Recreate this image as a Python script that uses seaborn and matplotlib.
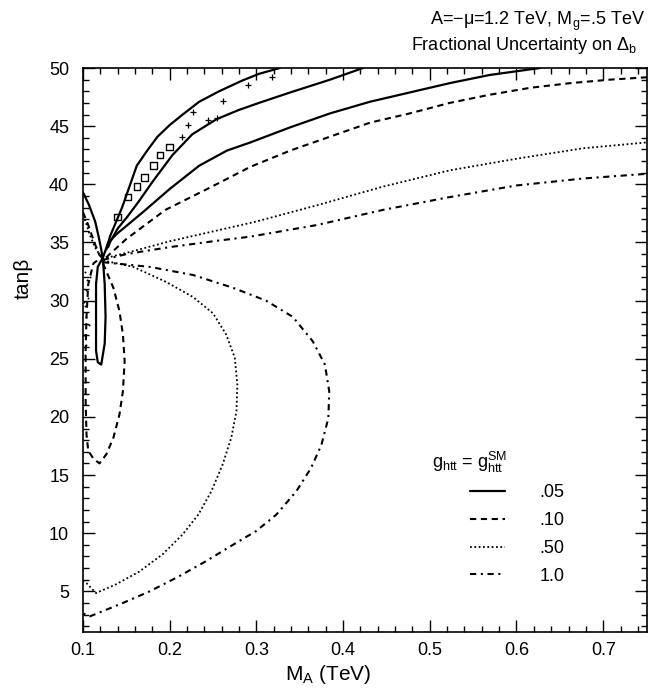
import numpy as np
import matplotlib
matplotlib.use("Agg")
import matplotlib.pyplot as plt
from matplotlib.ticker import MultipleLocator, FormatStrFormatter
from matplotlib.lines import Line2D
import seaborn as sns

# --- contour traces (M_A in TeV, tan beta) ---
# .05 (solid): upper-left piece, narrow loop, then the smooth upper branch
sol_loop_x = [0.100, 0.102, 0.107, 0.111, 0.114, 0.118, 0.121, 0.123, 0.125, 0.126, 0.125, 0.121,
              0.117, 0.115, 0.115, 0.115, 0.117, 0.123, 0.129, 0.140, 0.169, 0.200, 0.234, 0.266,
              0.293, 0.339, 0.385, 0.431, 0.477, 0.523, 0.569, 0.627]
sol_loop_y = [39.3, 39.0, 38.2, 37.4, 36.8, 35.5, 34.4, 33.5, 31.4, 28.6, 26.3, 24.5,
              24.7, 25.7, 28.6, 31.4, 32.9, 33.7, 35.0, 35.8, 37.6, 39.6, 41.6, 42.9,
              43.6, 44.9, 46.1, 47.1, 47.9, 48.7, 49.4, 50.0]
sol_a_x = [0.127, 0.131, 0.145, 0.154, 0.162, 0.175, 0.186, 0.200, 0.215, 0.234, 0.257, 0.283, 0.303, 0.327]
sol_a_y = [34.4, 35.5, 38.0, 39.9, 41.6, 43.0, 44.1, 45.1, 46.0, 47.1, 48.0, 48.9, 49.5, 50.0]
sol_b_x = [0.129, 0.131, 0.140, 0.151, 0.165, 0.180, 0.203, 0.226, 0.254, 0.280, 0.303, 0.339, 0.385, 0.423]
sol_b_y = [34.6, 35.0, 36.2, 37.2, 38.6, 40.2, 42.5, 44.3, 45.6, 46.4, 47.0, 47.9, 49.0, 50.0]

# .10 (dashed)
dash_up_x = [0.100, 0.106, 0.113, 0.119, 0.125, 0.150, 0.195, 0.246, 0.293, 0.339, 0.385, 0.431,
             0.477, 0.523, 0.569, 0.616, 0.662, 0.708, 0.750]
dash_up_y = [37.6, 36.5, 35.0, 33.9, 33.6, 35.3, 37.8, 39.7, 41.5, 42.9, 44.1, 45.3,
             46.1, 47.0, 47.7, 48.3, 48.7, 49.0, 49.2]
dash_lo_x = [0.123, 0.135, 0.142, 0.146, 0.148, 0.146, 0.142, 0.135, 0.127, 0.119, 0.112, 0.106,
             0.104, 0.103, 0.103, 0.104, 0.106, 0.112, 0.121]
dash_lo_y = [33.2, 31.1, 29.1, 27.1, 24.8, 22.2, 20.2, 18.2, 16.8, 16.0, 16.4, 17.1,
             18.5, 21.4, 25.7, 28.6, 31.4, 33.2, 33.7]

# .50 (dotted)
dot_up_x = [0.102, 0.108, 0.115, 0.123, 0.150, 0.200, 0.250, 0.300, 0.370, 0.446, 0.523, 0.600, 0.677, 0.750]
dot_up_y = [37.0, 35.6, 34.4, 33.6, 34.1, 35.1, 35.95, 36.8, 38.2, 39.8, 41.2, 42.2, 43.1, 43.6]
dot_lo_x = [0.123, 0.158, 0.196, 0.227, 0.250, 0.265, 0.275, 0.278, 0.277, 0.271, 0.261, 0.248,
            0.233, 0.215, 0.192, 0.165, 0.138, 0.115, 0.104, 0.100]
dot_lo_y = [33.45, 32.9, 31.6, 30.3, 28.9, 27.1, 25.1, 22.8, 20.5, 18.2, 15.9, 13.6,
            11.6, 9.9, 8.2, 6.7, 5.6, 4.85, 5.7, 5.9]

# 1.0 (dash-dot)
dd_up_x = [0.123, 0.150, 0.200, 0.250, 0.293, 0.370, 0.446, 0.523, 0.600, 0.677, 0.750]
dd_up_y = [33.5, 34.0, 34.6, 35.1, 35.5, 36.5, 37.8, 38.9, 39.9, 40.5, 40.9]
dd_lo_x = [0.123, 0.177, 0.227, 0.273, 0.311, 0.342, 0.365, 0.379, 0.384, 0.383, 0.375, 0.363,
           0.346, 0.323, 0.300, 0.273, 0.242, 0.211, 0.177, 0.146, 0.123, 0.108, 0.100]
dd_lo_y = [33.3, 32.9, 32.2, 31.1, 30.0, 28.6, 26.5, 24.5, 22.2, 19.9, 17.6, 15.6,
           13.6, 11.6, 10.2, 9.0, 7.6, 6.3, 5.0, 4.0, 3.3, 2.85, 3.1]

# numerical noise of the scan (boxes between the .05 branches, scattered dots near the axis)
box_x = [0.140, 0.152, 0.162, 0.171, 0.181, 0.189, 0.200]
box_y = [37.2, 38.9, 39.8, 40.6, 41.6, 42.5, 43.2]
cross_x = [0.214, 0.221, 0.227, 0.244, 0.255, 0.261, 0.290, 0.318]
cross_y = [44.1, 45.1, 46.2, 45.5, 45.7, 47.2, 48.5, 49.2]
blob_x = [0.102, 0.105, 0.103, 0.106, 0.102, 0.104, 0.107, 0.101, 0.104, 0.102, 0.108, 0.101]
blob_y = [32.5, 31.8, 30.9, 30.2, 29.5, 28.6, 27.9, 27.0, 26.2, 25.3, 32.0, 29.9]

levels = [".05", ".10", ".50", "1.0"]

sns.set_theme(style="ticks")
plt.rcParams.update({
    "font.family": ["Liberation Sans", "DejaVu Sans"],
    "mathtext.fontset": "custom",
    "mathtext.rm": "Liberation Sans",
    "mathtext.it": "Liberation Sans",
    "mathtext.bf": "Liberation Sans:bold",
    "axes.edgecolor": "black",
    "axes.linewidth": 1.2,
    "text.color": "black",
    "axes.labelcolor": "black",
    "xtick.color": "black",
    "ytick.color": "black",
})

STYLES = {
    ".05": dict(linestyle="-", linewidth=1.6),
    ".10": dict(linestyle=(0, (3, 2.2)), linewidth=1.5),
    ".50": dict(linestyle=(0, (1, 1.4)), linewidth=1.3),
    "1.0": dict(linestyle=(0, (3, 2.2, 1, 2.2)), linewidth=1.5),
}

fig = plt.figure(figsize=(6.6, 6.94), dpi=100)
ax = fig.add_axes([0.1258, 0.0893, 0.8538, 0.8127])


def trace(xs, ys, lev):
    sns.lineplot(x=xs, y=ys, sort=False, estimator=None, color="black", ax=ax, **STYLES[lev])


trace(sol_loop_x, sol_loop_y, ".05")
trace(sol_a_x, sol_a_y, ".05")
trace(sol_b_x, sol_b_y, ".05")
trace(dash_up_x, dash_up_y, ".10")
trace(dash_lo_x, dash_lo_y, ".10")
trace(dot_up_x, dot_up_y, ".50")
trace(dot_lo_x, dot_lo_y, ".50")
trace(dd_up_x, dd_up_y, "1.0")
trace(dd_lo_x, dd_lo_y, "1.0")

sns.scatterplot(x=box_x, y=box_y, marker="s", s=22, facecolor="none", edgecolor="black", linewidth=1.0, ax=ax)
sns.scatterplot(x=cross_x, y=cross_y, marker="+", s=14, color="black", linewidth=0.9, ax=ax)
sns.scatterplot(x=blob_x, y=blob_y, marker=".", s=8, color="black", linewidth=0, ax=ax)

ax.set_xlim(0.1, 0.75)
ax.set_ylim(1.5, 50)
ax.xaxis.set_major_locator(MultipleLocator(0.1))
ax.xaxis.set_minor_locator(MultipleLocator(0.02))
ax.xaxis.set_major_formatter(FormatStrFormatter("%.1f"))
ax.yaxis.set_major_locator(MultipleLocator(5))
ax.yaxis.set_minor_locator(MultipleLocator(1))
ax.tick_params(which="both", direction="in", top=True, right=True, color="black", width=1.0)
ax.tick_params(which="major", length=8.5, labelsize=13)
ax.tick_params(axis="y", which="major", pad=10)
ax.tick_params(axis="x", which="major", pad=7)
ax.tick_params(which="minor", length=4)

ax.set_xlabel(r"M$_A$ (TeV)", fontsize=15)
ax.xaxis.set_label_coords(0.435, -0.055)
ax.set_ylabel("tanβ", fontsize=15)
ax.yaxis.set_label_coords(-0.09, 0.628)

fig.text(0.977, 0.964, r"A=−μ=1.2 TeV, M$_g$=.5 TeV", ha="right", va="baseline", fontsize=13)
fig.text(0.965, 0.928, r"Fractional Uncertainty on Δ$_b$", ha="right", va="baseline", fontsize=13)

# legend
ax.text(0.619, 0.301, r"g$_{htt}$ = g$_{htt}^{SM}$", transform=ax.transAxes,
        ha="left", va="center", fontsize=13)
handles = [Line2D([], [], color="black", **STYLES[lev]) for lev in levels]
ax.legend(handles, levels, loc="upper left", bbox_to_anchor=(0.687, 0.262), frameon=False,
          fontsize=13, borderpad=0, borderaxespad=0, handlelength=1.95, handletextpad=1.9,
          labelspacing=0.6)

fig.savefig("out.png", dpi=100)
